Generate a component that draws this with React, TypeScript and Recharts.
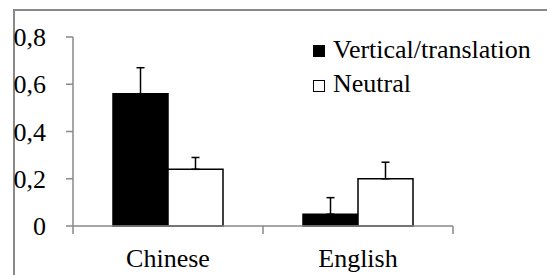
import { Bar, BarChart, ErrorBar, Legend, XAxis, YAxis } from "recharts"

const categories = ["Chinese", "English"]
const verticalValues = [0.56, 0.05]
const verticalErrors = [0.11, 0.07]
const neutralValues = [0.24, 0.2]
const neutralErrors = [0.05, 0.07]
const yTicks = [0, 0.2, 0.4, 0.6, 0.8]

const data = categories.map((name, i) => ({
    name,
    vertical: verticalValues[i],
    verticalErr: [0, verticalErrors[i]],
    neutral: neutralValues[i],
    neutralErr: [0, neutralErrors[i]],
}))

const axisGray = "#898989"
const serif = { fontFamily: '"Liberation Serif"' }
const fontSize = 26

const CategoryTick = (props: any) => {
    const { x, y, payload, index, visibleTicksCount } = props
    const half = payload?.offset || 95
    const last = index === visibleTicksCount - 1
    return (
        <g>
            <line x1={x - half} x2={x - half} y1={y} y2={y + 8} stroke={axisGray} strokeWidth={1.5} />
            {last && <line x1={x + half} x2={x + half} y1={y} y2={y + 8} stroke={axisGray} strokeWidth={1.5} />}
            <text x={x} y={y + 41} textAnchor="middle" style={serif} fontSize={fontSize} fill="#000">
                {payload.value}
            </text>
        </g>
    )
}

const ValueTick = (props: any) => {
    const { x, y, payload } = props
    return (
        <text x={x} y={y} dy={9} textAnchor="end" style={serif} fontSize={fontSize} fill="#000">
            {String(payload.value).replace(".", ",")}
        </text>
    )
}

const LegendBox = () => (
    <svg width={240} height={70}>
        <rect x={8} y={10} width={12} height={12} fill="#000" />
        <text x={28} y={23} fontSize={fontSize} fill="#000" style={serif}>Vertical/translation</text>
        <rect x={8.5} y={45.5} width={11} height={11} fill="#fff" stroke="#000" strokeWidth={1} />
        <text x={28} y={57} fontSize={fontSize} fill="#000" style={serif}>Neutral</text>
    </svg>
)

export default function App() {
    return (
        <div style={{ position: "absolute", left: 0, top: 0, width: 547, height: 275 }}>
            <style>{`#root text, #root tspan { font-family: "Liberation Serif" !important; }`}</style>
            <div
                style={{
                    position: "absolute",
                    left: 13,
                    top: 9,
                    width: 534,
                    height: 266,
                    borderLeft: `2px solid ${axisGray}`,
                    borderTop: `2px solid ${axisGray}`,
                }}
            />
            <BarChart
                width={547}
                height={275}
                data={data}
                margin={{ top: 37, right: 94, bottom: 19, left: 0 }}
                barCategoryGap={40}
                barGap={0}
                style={{ position: "absolute", left: 0, top: 0 }}
            >
                <XAxis
                    dataKey="name"
                    height={30}
                    tickSize={0}
                    tickMargin={0}
                    tickLine={false}
                    axisLine={{ stroke: axisGray, strokeWidth: 1.5 }}
                    tick={<CategoryTick />}
                    interval={0}
                />
                <YAxis
                    width={73}
                    domain={[0, 0.8]}
                    ticks={yTicks}
                    tickSize={7}
                    tickMargin={20}
                    axisLine={{ stroke: axisGray, strokeWidth: 1.5 }}
                    tickLine={{ stroke: axisGray, strokeWidth: 1.5 }}
                    tick={<ValueTick />}
                />
                <Legend
                    layout="vertical"
                    align="center"
                    verticalAlign="middle"
                    content={<LegendBox />}
                    wrapperStyle={{ position: "absolute", left: 305, top: 35, width: 240, height: 70 }}
                />
                <Bar dataKey="vertical" fill="#000" stroke="#000" strokeWidth={1.5} isAnimationActive={false}>
                    <ErrorBar dataKey="verticalErr" width={4} stroke="#000" strokeWidth={1.5} direction="y" />
                </Bar>
                <Bar dataKey="neutral" fill="#fff" stroke="#000" strokeWidth={1.5} isAnimationActive={false}>
                    <ErrorBar dataKey="neutralErr" width={4} stroke="#000" strokeWidth={1.5} direction="y" />
                </Bar>
            </BarChart>
        </div>
    )
}
